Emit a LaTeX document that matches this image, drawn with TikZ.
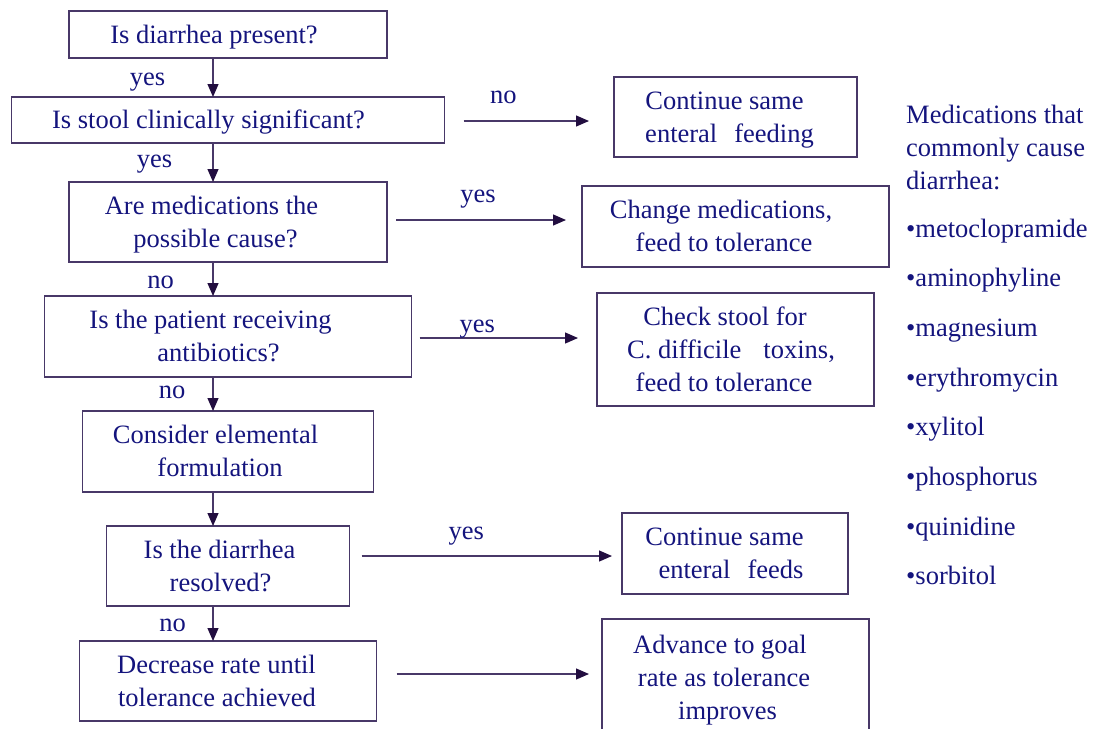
\documentclass[tikz,border=0pt]{standalone}
\usepackage{fontspec}
\setmainfont{Liberation Serif}
\usetikzlibrary{arrows.meta,positioning}

\definecolor{navytext}{RGB}{20,20,125}
\definecolor{boxline}{RGB}{72,56,104}
\definecolor{tipfill}{RGB}{34,14,64}

\newcommand{\rpad}[1]{\hbox to #1pt{}}

\tikzset{
  box/.style={draw=boxline, line width=1.2pt, rectangle, align=center, outer sep=0pt, inner sep=3pt, text=navytext},
  one/.style={text height=25pt, text depth=8pt},
  two/.style={text height=58pt, text depth=8pt},
  three/.style={text height=91pt, text depth=8pt},
  flow/.style={->, draw=boxline, line width=1.2pt},
  lbl/.style={text=navytext, anchor=base, inner sep=0pt},
  drug/.style={text=navytext, anchor=base west, inner sep=0pt}
}

\begin{document}
\begin{tikzpicture}[x=1pt,y=-1pt,>={Triangle[length=13pt,width=11pt,color=tipfill]},
    font=\fontsize{26.5}{33}\selectfont]

                \useasboundingbox (0,0) rectangle (1100,728);

                % left column
                \node[box,one,minimum width=318pt,minimum height=47pt] (present) at (228,34.5) {Is diarrhea present?\rpad{28}};

                \node[box,one,minimum width=433pt,minimum height=46pt] (stool) [below=39pt of present] {Is stool clinically significant?\rpad{39}};

                \node[box,two,minimum width=318pt,minimum height=80pt] (meds) [below=39pt of stool] {Are medications the\rpad{33}\\possible cause?\rpad{25}};

                \node[box,two,minimum width=367pt,minimum height=81pt] (abx) [below=34pt of meds] {Is the patient receiving\rpad{35}\\antibiotics?\rpad{19}};

                \node[box,two,minimum width=291pt,minimum height=81pt] (elemental) [below=34pt of abx] {Consider elemental\rpad{25}\\formulation\rpad{16}};

                \node[box,two,minimum width=243pt,minimum height=80pt] (resolved) [below=34pt of elemental] {Is the diarrhea\rpad{17}\\resolved?\rpad{15}};

                \node[box,two,minimum width=297pt,minimum height=80pt] (decrease) [below=35pt of resolved] {Decrease rate until\rpad{23}\\tolerance achieved\rpad{22}};

                % right column
                \node[box,two,minimum width=243pt,minimum height=80pt] (samefeeding) at (735.5,117) {Continue same\rpad{22}\\enteral\hspace{17pt}feeding\rpad{12}};

                \node[box,two,minimum width=307pt,minimum height=81pt] (changemeds) at (735.5,226.5) {Change medications,\rpad{29}\\feed to tolerance\rpad{23}};

                \node[box,three,minimum width=277pt,minimum height=113pt] (cdiff) at (735.5,349.5) {Check stool for\rpad{21}\\C. difficile\hspace{22pt}toxins,\rpad{9}\\feed to tolerance\rpad{23}};

                \node[box,two,minimum width=226pt,minimum height=81pt] (samefeeds) at (735,553.5) {Continue same\rpad{21}\\enteral\hspace{17pt}feeds\rpad{8}};

                \node[box,three,minimum width=267pt,minimum height=117pt] (advance) at (735.5,677.5) {Advance to goal\rpad{31}\\rate as tolerance\rpad{23}\\improves\rpad{16}};

                % medication list
                \node[drug,align=left] (medhead) at (906,189) {Medications that\\commonly cause\\diarrhea:};

                \foreach \drugname [count=\i from 0] in {metoclopramide,aminophyline,magnesium,erythromycin,xylitol,phosphorus,quinidine,sorbitol}
                    {
                    \node[drug] (drug\i) at (906,{237+49.7*\i}) {\textbullet\drugname};
                    }

                % downward flow
                \foreach \from/\to/\lab/\dx/\dy in {present/stool/yes/-65.5/-7.5, stool/meds/yes/-58.5/-4.5, meds/abx/no/-52.5/-9, abx/elemental/no/-41/-4, resolved/decrease/no/-40.5/-7.5}
                    {
                    \draw[flow] ([xshift=-15pt]\from.south) -- ([xshift=-15pt]\to.north) node[lbl,midway,xshift=\dx pt,yshift=\dy pt] {\lab};
                    }

                \draw[flow] ([xshift=-15pt]elemental.south) -- ([xshift=-15pt]resolved.north);

                % side branches
                \draw[flow,shorten <=19pt,shorten >=25pt] ([yshift=-1pt]stool.east) -- ([yshift=-4pt]samefeeding.west) node[lbl,midway,xshift=-26pt,yshift=18pt] {no};

                \draw[flow,shorten <=9pt,shorten >=16pt] ([yshift=2pt]meds.east) -- ([yshift=6.5pt]changemeds.west) node[lbl,midway,xshift=-6.5pt,yshift=18pt] {yes};

                \draw[flow,shorten <=8pt,shorten >=19pt] ([yshift=-1.5pt]abx.east) -- ([yshift=11.5pt]cdiff.west) node[lbl,midway,xshift=-27pt,yshift=6pt] {yes};

                \draw[flow,shorten <=12pt,shorten >=10pt] ([yshift=10pt]resolved.east) -- ([yshift=-2.5pt]samefeeds.west) node[lbl,midway,xshift=-19.5pt,yshift=17pt] {yes};

                \draw[flow,shorten <=20pt,shorten >=13pt] ([yshift=7pt]decrease.east) -- ([yshift=3.5pt]advance.west);

            \end{tikzpicture}
\end{document}
